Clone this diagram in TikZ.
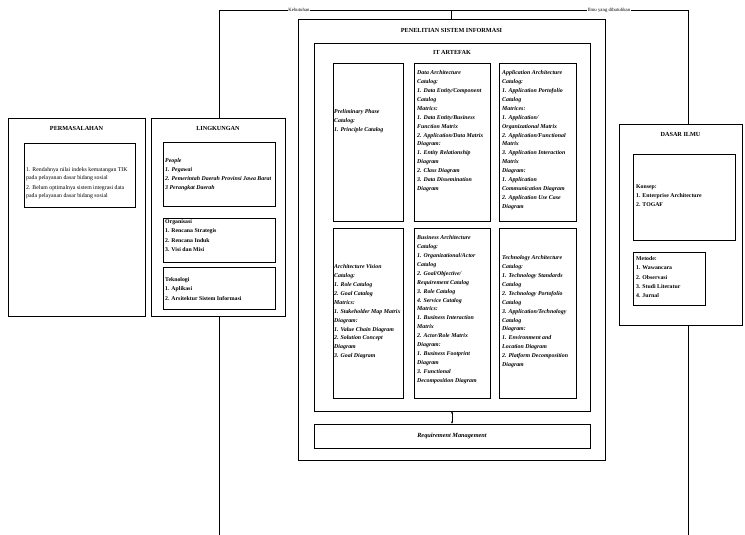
\documentclass[tikz,border=0pt]{standalone}
\usepackage{fontspec}
\setmainfont{Liberation Serif}
\usetikzlibrary{fit,positioning,arrows.meta}

\tikzset{
  kotak/.style={draw, line width=0.6pt, inner sep=0pt},
  garis/.style={line width=0.6pt},
  judul/.style={font=\fontsize{6.2}{7}\selectfont\bfseries, inner sep=0pt},
  isi/.style={font=\fontsize{5.9}{8.9}\selectfont\bfseries\itshape, align=left, inner sep=0pt, anchor=north west},
  isitegak/.style={font=\fontsize{5.8}{9.2}\selectfont\bfseries, align=left, inner sep=0pt, anchor=north west},
  biasa/.style={font=\fontsize{5.8}{8.2}\selectfont, align=left, inner sep=0pt, anchor=north west},
  kecil/.style={font=\fontsize{4.8}{5}\selectfont, inner sep=0.6pt, fill=white},
}

\begin{document}
\begin{tikzpicture}[x=1pt, y=-1pt]
    % 1. Vùng hiển thị
    \useasboundingbox (0,0) rectangle (745,535);

    % 2. Permasalahan
    \node[kotak, fit={(8,118) (145,316)}] (masalah) {};
    \node[judul, below=8pt of masalah.north] (masalah-judul) {PERMASALAHAN};
    \node[kotak, fit={(24,143) (135,207)}] (masalah-isi) {};
    \node[biasa] (masalah-teks) at (26,167) {1. Rendahnya nilai indeks kematangan TIK\\
        pada pelayanan dasar bidang sosial\\[1.6pt]
        2. Belum optimalnya sistem integrasi data\\
        pada pelayanan dasar bidang sosial};

    % 3. Lingkungan
    \node[kotak, fit={(151,118) (285,316)}] (ling) {};
    \node[judul, below=8pt of ling.north] (ling-judul) {LINGKUNGAN};
    \node[kotak, fit={(163,142) (275,206)}] (ling-people) {};
    \node[isi] (people-teks) at (165,158.5) {People\\ 1. Pegawai\\
        2. Pemerintah Daerah Provinsi Jawa Barat\\ 3 Perangkat Daerah};
    \node[kotak, fit={(163,218) (275,262)}] (ling-org) {};
    \node[isitegak] (org-teks) at (165,219.5) {Organisasi\\ 1. Rencana Strategis\\
        2. Rencana Induk\\ 3. Visi dan Misi};
    \node[kotak, fit={(163,267) (275,309)}] (ling-tek) {};
    \node[isitegak] (tek-teks) at (165,277.5) {Teknologi\\ 1. Aplikasi\\
        2. Arsitektur Sistem Informasi};

    % 4. Penelitian Sistem Informasi
    \node[kotak, fit={(298,19) (605,460)}] (pen) {};
    \node[judul, below=9pt of pen.north] (pen-judul) {PENELITIAN SISTEM INFORMASI};
    \node[kotak, fit={(314,43) (590,411)}] (it) {};
    \node[judul, below=7.5pt of it.north] (it-judul) {IT ARTEFAK};

    % Hàng trên
    \node[kotak, fit={(333,63) (403,221)}] (prelim) {};
    \node[isi] (prelim-teks) at (334,109.5) {Preliminary Phase\\ Catalog:\\ 1. Principle Catalog};
    \node[kotak, fit={(414,63) (490,221)}] (data) {};
    \node[isi] (data-teks) at (417,70.5) {Data Architecture\\ Catalog:\\
        1. Data Entity/Component\\ Catalog\\ Matrics:\\ 1. Data Entity/Business\\
        Function Matrix\\ 2. Application/Data Matrix\\ Diagram:\\
        1. Entity Relationship\\ Diagram\\ 2. Class Diagram\\
        3. Data Dissemination\\ Diagram};
    \node[kotak, fit={(499,63) (576,221)}] (app) {};
    \node[isi] (app-teks) at (502,70.5) {Application Architecture\\ Catalog:\\
        1. Application Portofolio\\ Catalog\\ Matrices:\\ 1. Application/\\
        Organizational Matrix\\ 2. Application/Functional\\ Matrix\\
        3. Application Interaction\\ Matrix\\ Diagram:\\ 1. Application\\
        Communication Diagram\\ 2. Application Use Case\\ Diagram};

    % Hàng dưới
    \node[kotak, fit={(333,228) (403,398)}] (vision) {};
    \node[isi] (vision-teks) at (334,264.5) {Architecture Vision\\ Catalog:\\
        1. Role Catalog\\ 2. Goal Catalog\\ Matrics:\\
        1. Stakeholder Map Matrix\\ Diagram:\\ 1. Value Chain Diagram\\
        2. Solution Concept\\ Diagram\\ 3. Goal Diagram};
    \node[kotak, fit={(414,228) (490,398)}] (bisnis) {};
    \node[isi] (bisnis-teks) at (417,235.5) {Business Architecture\\ Catalog:\\
        1. Organizational/Actor\\ Catalog\\ 2. Goal/Objective/\\
        Requirement Catalog\\ 3. Role Catalog\\ 4. Service Catalog\\ Matrics:\\
        1. Business Interaction\\ Matrix\\ 2. Actor/Role Matrix\\ Diagram:\\
        1. Business Footprint\\ Diagram\\ 3. Functional\\ Decomposition Diagram};
    \node[kotak, fit={(499,228) (576,398)}] (tekno) {};
    \node[isi] (tekno-teks) at (502,255.5) {Technology Architecture\\ Catalog:\\
        1. Technology Standards\\ Catalog\\ 2. Technology Portofolio\\ Catalog\\
        3. Application/Technology\\ Catalog\\ Diagram:\\ 1. Environment and\\
        Location Diagram\\ 2. Platform Decomposition\\ Diagram};

    % Requirement Management
    \node[kotak, fit={(314,424) (590,448)}] (req) {};
    \node[isi, anchor=center, font=\fontsize{6.3}{7}\selectfont\bfseries\itshape] (req-teks) at (req.center) {Requirement Management};
    \draw[garis, {Stealth[length=2.4pt,width=2.2pt]}-{Stealth[length=2.4pt,width=2.2pt]}] (it.south) -- (req.north);

    % 5. Dasar Ilmu
    \node[kotak, fit={(619,124) (742,325)}] (dasar) {};
    \node[judul, below=8pt of dasar.north] (dasar-judul) {DASAR ILMU};
    \node[kotak, fit={(633,154) (735,240)}] (konsep) {};
    \node[isitegak] (konsep-teks) at (636,184.5) {Konsep:\\ 1. Enterprise Architecture\\ 2. TOGAF};
    \node[kotak, fit={(633,252) (705,305)}] (metode) {};
    \node[isitegak] (metode-teks) at (636,256.5) {Metode:\\ 1. Wawancara\\ 2. Observasi\\
        3. Studi Literatur\\ 4. Jurnal};

    % 6. Đường nối
    \coordinate (atas-kiri) at (219,10);
    \coordinate (atas-kanan) at (688,10);
    \coordinate (bawah-kiri) at (219,535);
    \coordinate (bawah-kanan) at (688,535);
    \draw[garis] (atas-kiri |- ling.north) -- (atas-kiri) -- (atas-kanan) -- (atas-kanan |- dasar.north);
    \draw[garis] (pen.north) -- (pen.north |- atas-kiri);
    \draw[garis] (atas-kiri |- ling.south) -- (bawah-kiri);
    \draw[garis] (atas-kanan |- dasar.south) -- (bawah-kanan);
    \node[kecil] (kebutuhan) at (299,10) {Kebutuhan};
    \node[kecil] (ilmu) at (609,10) {Ilmu yang dibutuhkan};

\end{tikzpicture}
\end{document}
